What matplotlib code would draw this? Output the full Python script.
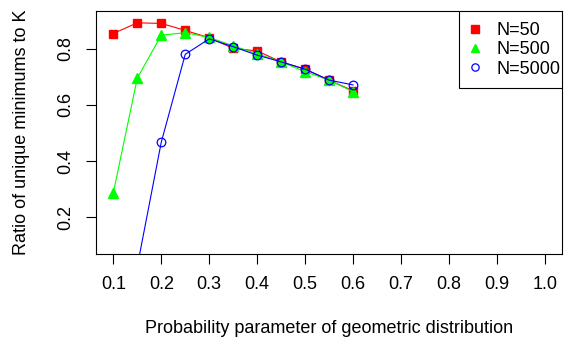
import matplotlib
matplotlib.use("Agg")
import matplotlib.pyplot as plt
from matplotlib.patches import Rectangle

p = [0.1, 0.15, 0.2, 0.25, 0.3, 0.35, 0.4, 0.45, 0.5, 0.55, 0.6]
n50 = [0.854, 0.892, 0.890, 0.865, 0.839, 0.801, 0.792, 0.753, 0.727, 0.688, 0.650]
n500 = [0.287, 0.695, 0.848, 0.857, 0.840, 0.810, 0.782, 0.753, 0.718, 0.688, 0.647]
n5000 = [0.003, 0.025, 0.467, 0.780, 0.835, 0.807, 0.777, 0.753, 0.727, 0.688, 0.671]
xticks = [0.1, 0.2, 0.3, 0.4, 0.5, 0.6, 0.7, 0.8, 0.9, 1.0]
yticks = [0.2, 0.4, 0.6, 0.8]

plt.rcParams['font.family'] = ['Liberation Sans', 'DejaVu Sans']
fig = plt.figure(figsize=(5.65, 3.47), dpi=100)
ax = fig.add_axes([0.170, 0.268, 0.825, 0.701])

ax.plot(p, n50, '-s', color='#FF0000', lw=0.8, ms=6.2, label='N=50')
ax.plot(p, n500, '-^', color='#00FF00', lw=0.8, ms=7.2, label='N=500')
ax.plot(p, n5000, '-o', color='#0000FF', lw=0.8, ms=6.2, mfc='none', mew=0.9, label='N=5000')

ax.set_xlim(0.064, 1.036)
ax.set_ylim(0.069, 0.935)
ax.set_xticks(xticks)
ax.set_xticklabels(['%.1f' % v for v in xticks])
ax.set_yticks(yticks)
ax.set_yticklabels(['%.1f' % v for v in yticks], rotation=90, va='center')
ax.tick_params(labelsize=13, length=7.5, width=0.8, direction='out', pad=8)
for s in ax.spines.values():
    s.set_linewidth(0.8)

ax.set_xlabel('Probability parameter of geometric distribution', fontsize=13, labelpad=20)
ax.set_ylabel('Ratio of unique minimums to K', fontsize=13, labelpad=20)

# legend box drawn by hand, R style
ax.add_patch(Rectangle((0.779, 0.682), 0.221, 0.318, transform=ax.transAxes,
                       facecolor='white', edgecolor='black', lw=0.8, zorder=4))
leg = ax.legend(loc='center left', bbox_to_anchor=(0.794, 0.84), fontsize=13,
                frameon=False, borderpad=0, borderaxespad=0, markerscale=0.85,
                handlelength=1.0, handletextpad=0.7, labelspacing=0.13)
leg.set_zorder(5)
for h in leg.legend_handles:
    h.set_linestyle('none')

fig.savefig('out.png', dpi=100)
